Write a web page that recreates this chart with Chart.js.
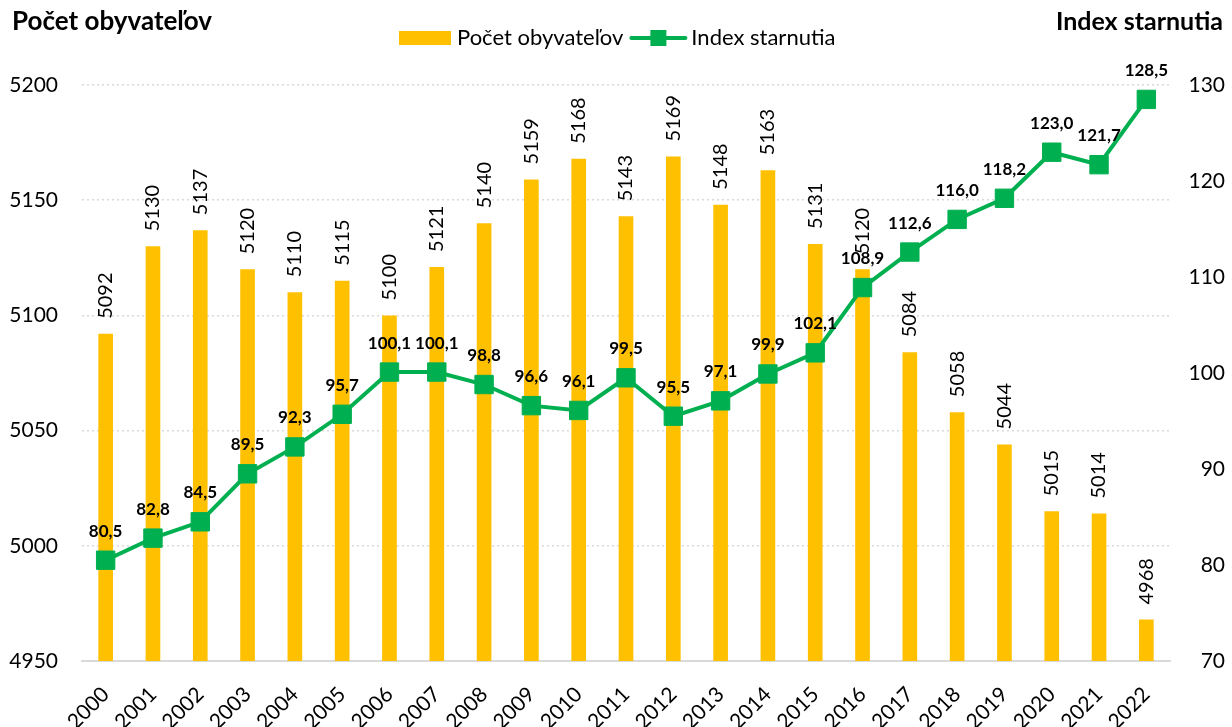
<!DOCTYPE html>
<html><head><meta charset="utf-8">
<script src="https://cdn.jsdelivr.net/npm/chart.js@4/dist/chart.umd.min.js"></script>
<style>html,body{margin:0;padding:0;background:#fff}#wrap{width:1232px;height:727px}</style>
</head><body><div id="wrap"><canvas id="c" width="1232" height="727"></canvas></div>
<script>
const years = ['2000','2001','2002','2003','2004','2005','2006','2007','2008','2009','2010','2011','2012','2013','2014','2015','2016','2017','2018','2019','2020','2021','2022'];
const population = [5092,5130,5137,5120,5110,5115,5100,5121,5140,5159,5168,5143,5169,5148,5163,5131,5120,5084,5058,5044,5015,5014,4968];
const agingIndex = [80.5,82.8,84.5,89.5,92.3,95.7,100.1,100.1,98.8,96.6,96.1,99.5,95.5,97.1,99.9,102.1,108.9,112.6,116.0,118.2,123.0,121.7,128.5];
const leftTitle = 'Počet obyvateľov';
const rightTitle = 'Index starnutia';
const FONT = 'Lato, "Liberation Sans", sans-serif';
const YELLOW = '#FFC000', GREEN = '#00B050';

const overlay = {
  id: 'overlay',
  afterDatasetsDraw(chart) {
    const ctx = chart.ctx;
    ctx.save();
    const barMeta = chart.getDatasetMeta(0);
    ctx.font = '20px ' + FONT;
    ctx.fillStyle = '#000';
    ctx.textAlign = 'left';
    ctx.textBaseline = 'middle';
    barMeta.data.forEach((el, i) => {
      ctx.save();
      ctx.translate(el.x, el.y - 15);
      ctx.rotate(-Math.PI / 2);
      ctx.fillText(String(population[i]), 0, 0);
      ctx.restore();
    });
    const lineMeta = chart.getDatasetMeta(1);
    ctx.font = 'bold 17px ' + FONT;
    ctx.textAlign = 'center';
    lineMeta.data.forEach((el, i) => {
      ctx.fillText(agingIndex[i].toFixed(1).replace('.', ','), el.x, el.y - 29);
    });
    ctx.font = 'bold 26px ' + FONT;
    ctx.textAlign = 'left';
    ctx.fillText(leftTitle, 12, 22);
    ctx.font = 'bold 25px ' + FONT;
    ctx.textAlign = 'right';
    ctx.fillText(rightTitle, 1223, 22);
    // legend
    ctx.font = '22px ' + FONT;
    ctx.textAlign = 'left';
    ctx.fillStyle = YELLOW;
    ctx.fillRect(399, 31, 52, 14);
    ctx.fillStyle = '#000';
    ctx.fillText(chart.data.datasets[0].label, 457, 38);
    const x2 = 457 + ctx.measureText(chart.data.datasets[0].label).width + 8;
    ctx.strokeStyle = GREEN;
    ctx.lineWidth = 4;
    ctx.lineCap = 'round';
    ctx.beginPath(); ctx.moveTo(x2, 38); ctx.lineTo(x2 + 54, 38); ctx.stroke();
    ctx.fillStyle = GREEN;
    ctx.fillRect(x2 + 19, 30, 16, 16);
    ctx.fillStyle = '#000';
    ctx.fillText(chart.data.datasets[1].label, x2 + 60, 38);
    ctx.restore();
  }
};

new Chart(document.getElementById('c'), {
  data: {
    labels: years,
    datasets: [
      { type: 'bar', label: 'Počet obyvateľov', data: population, backgroundColor: YELLOW, yAxisID: 'y', barPercentage: 0.31, categoryPercentage: 1, order: 2 },
      { type: 'line', label: 'Index starnutia', data: agingIndex, borderColor: GREEN, backgroundColor: GREEN, borderWidth: 4, pointStyle: 'rect', pointRadius: 13, pointHoverRadius: 13, pointBorderWidth: 1, pointBackgroundColor: GREEN, pointBorderColor: GREEN, yAxisID: 'y1', tension: 0, order: 1 }
    ]
  },
  options: {
    responsive: false,
    animation: false,
    layout: { padding: { left: 0, right: 7, top: 85, bottom: 0 } },
    plugins: { legend: { display: false }, tooltip: { enabled: false } },
    scales: {
      x: {
        grid: { display: false, drawTicks: false },
        border: { display: true, color: '#D9D9D9', width: 2 },
        ticks: { font: { size: 21, family: FONT }, color: '#000', maxRotation: 45, minRotation: 45, padding: 21 },
        afterFit(s) { s.height = 66; }
      },
      y: {
        position: 'left', min: 4950, max: 5200,
        ticks: { stepSize: 50, font: { size: 21, family: FONT }, color: '#000', padding: 24, callback: v => String(v) },
        grid: { color: '#D9D9D9', lineWidth: 1.5, drawTicks: false },
        border: { display: false, dash: [2, 3] },
        afterFit(s) { s.width = 82; }
      },
      y1: {
        position: 'right', min: 70, max: 130,
        ticks: { stepSize: 10, font: { size: 21, family: FONT }, color: '#000', crossAlign: 'far', padding: 10, callback: v => String(v) },
        grid: { display: false, drawTicks: false },
        border: { display: false },
        afterFit(s) { s.width = 55; }
      }
    }
  },
  plugins: [overlay]
});
</script></body></html>
